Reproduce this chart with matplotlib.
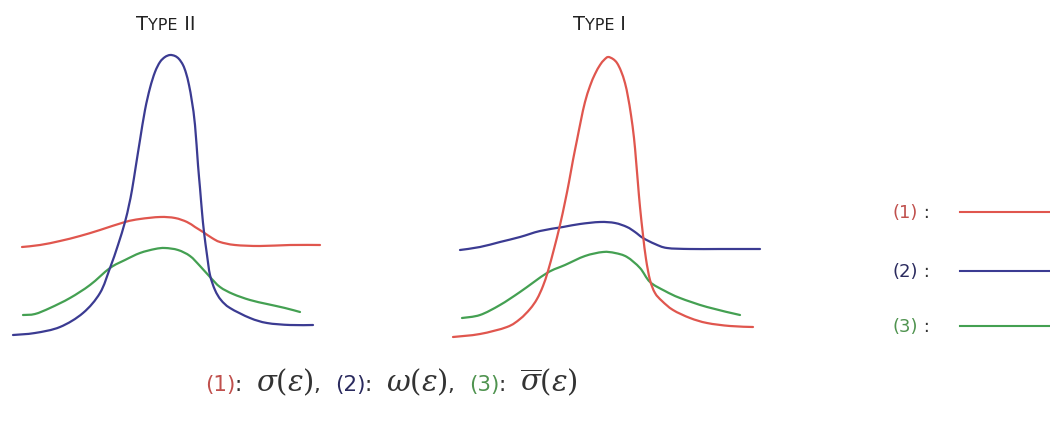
import matplotlib
matplotlib.use("Agg")
import matplotlib.pyplot as plt
from matplotlib.path import Path
from matplotlib.patches import PathPatch

# ---- curve samples (x: strain position within panel, y: curve height) ----
# Type II panel
t2_omega_x = [13, 35, 60, 83, 100, 110, 118, 125, 129, 132, 136, 140, 145, 150, 155, 160, 165, 170, 175,
              179, 183, 186, 189, 192, 195, 198, 200, 202, 204, 207, 210, 215, 221, 230, 250, 267, 290, 313]
t2_omega_y = [10, 12, 18, 32, 52, 77, 100, 123, 140, 155, 180, 205, 235, 257, 273, 283, 288, 290, 289,
              286, 280, 272, 260, 243, 220, 180, 157, 133, 113, 90, 70, 55, 45, 37, 27, 22, 20, 20]
t2_sigma_x = [22, 40, 60, 80, 100, 125, 140, 160, 175, 187, 195, 203, 212, 220, 235, 260, 290, 320]
t2_sigma_y = [98, 100, 104, 109, 115, 123, 126, 128, 127, 123, 118, 113, 107, 103, 100, 99, 100, 100]
t2_sbar_x = [23, 35, 50, 70, 90, 110, 125, 140, 155, 165, 178, 190, 200, 210, 220, 233, 250, 267, 285, 300]
t2_sbar_y = [30, 31, 37, 47, 60, 77, 85, 92, 96, 97, 95, 89, 79, 68, 58, 51, 45, 41, 37, 33]

# Type I panel
t1_sigma_x = [13, 40, 67, 80, 90, 97, 103, 108, 114, 120, 125, 129, 133, 137, 141, 145, 150, 155, 160,
              164, 168, 173, 177, 181, 185, 188, 191, 194, 196, 198, 200, 203, 206, 210, 215, 222, 233,
              250, 267, 290, 313]
t1_sigma_y = [8, 11, 18, 26, 36, 46, 59, 74, 96, 120, 143, 163, 185, 205, 225, 243, 259, 271, 280,
              285, 288, 286, 282, 274, 262, 248, 230, 207, 185, 161, 138, 110, 86, 65, 52, 44, 35,
              27, 22, 19, 18]
t1_omega_x = [20, 40, 60, 80, 100, 123, 140, 160, 175, 187, 195, 203, 215, 227, 250, 280, 320]
t1_omega_y = [95, 98, 103, 108, 114, 118, 121, 123, 122, 118, 113, 107, 101, 97, 96, 96, 96]
t1_sbar_x = [22, 40, 60, 80, 107, 125, 145, 163, 175, 187, 200, 210, 225, 240, 267, 300]
t1_sbar_y = [27, 30, 40, 53, 72, 80, 89, 93, 92, 88, 77, 63, 54, 47, 38, 30]

panel_titles = [("T", "YPE", " II"), ("T", "YPE", " I")]
legend_labels = ["(1)", "(2)", "(3)"]

RED = "#e0564e"
BLUE = "#3b3b92"
GREEN = "#44a052"
RED_TXT = "#c0504d"
BLUE_TXT = "#2a2a5e"
GREEN_TXT = "#4f934f"
INK = "#333333"

W, H = 1050, 421
fig = plt.figure(figsize=(W / 100, H / 100), dpi=100)
fig.patch.set_facecolor("white")


def panel(x0, x1, top, bottom):
    ax = fig.add_axes([x0 / W, (H - bottom) / H, (x1 - x0) / W, (bottom - top) / H])
    ax.set_xlim(0, x1 - x0)
    ax.set_ylim(0, bottom - top)
    ax.axis("off")
    return ax


def smooth_line(ax, xs, ys, color, lw=1.6):
    """Draw a smooth curve through the sample points (Catmull-Rom as cubic Beziers)."""
    pts = list(zip(xs, ys))
    n = len(pts)
    verts = [pts[0]]
    codes = [Path.MOVETO]
    for i in range(n - 1):
        p0 = pts[i - 1] if i > 0 else pts[i]
        p1 = pts[i]
        p2 = pts[i + 1]
        p3 = pts[i + 2] if i + 2 < n else pts[i + 1]
        c1 = (p1[0] + (p2[0] - p0[0]) / 6, p1[1] + (p2[1] - p0[1]) / 6)
        c2 = (p2[0] - (p3[0] - p1[0]) / 6, p2[1] - (p3[1] - p1[1]) / 6)
        verts += [c1, c2, p2]
        codes += [Path.CURVE4] * 3
    ax.add_patch(PathPatch(Path(verts, codes), facecolor="none", edgecolor=color,
                           lw=lw, capstyle="round", joinstyle="round"))


ax2 = panel(0, 340, 40, 345)
smooth_line(ax2, t2_sigma_x, t2_sigma_y, RED)
smooth_line(ax2, t2_sbar_x, t2_sbar_y, GREEN)
smooth_line(ax2, t2_omega_x, t2_omega_y, BLUE)

ax1 = panel(440, 780, 40, 345)
smooth_line(ax1, t1_omega_x, t1_omega_y, BLUE)
smooth_line(ax1, t1_sbar_x, t1_sbar_y, GREEN)
smooth_line(ax1, t1_sigma_x, t1_sigma_y, RED)

# overlay for annotations, in pixel units
ov = fig.add_axes([0, 0, 1, 1])
ov.set_xlim(0, W)
ov.set_ylim(H, 0)
ov.axis("off")

plt.rcParams["mathtext.fontset"] = "dejavuserif"
fig.canvas.draw()
renderer = fig.canvas.get_renderer()


def runs(x, y, pieces, family="DejaVu Sans"):
    """Place text pieces one after another along a common baseline."""
    for text, color, size in pieces:
        t = ov.text(x, y, text, color=color, fontsize=size, family=family,
                    ha="left", va="baseline")
        bb = t.get_window_extent(renderer=renderer)
        x += bb.width * W / fig.bbox.width
    return x


# panel titles in small caps
for (a, b, c), x0 in zip(panel_titles, [136, 573]):
    runs(x0, 30, [(a, "#222222", 14), (b, "#222222", 11.5), (c, "#222222", 14)])

# legend on the right
leg_rows = [(RED_TXT, RED, 212), (BLUE_TXT, BLUE, 271), (GREEN_TXT, GREEN, 326)]
for lab, (tc, lc, yy) in zip(legend_labels, leg_rows):
    runs(893, yy + 6, [(lab, tc, 13), (" :", INK, 13)])
    ov.plot([960, 1050], [yy, yy], color=lc, lw=1.5)

# bottom caption
runs(205, 391, [
    ("(1)", RED_TXT, 15.5), (":  ", INK, 15.5), (r"$\sigma(\varepsilon)$", INK, 21), (",  ", INK, 15.5),
    ("(2)", BLUE_TXT, 15.5), (":  ", INK, 15.5), (r"$\omega(\varepsilon)$", INK, 21), (",  ", INK, 15.5),
    ("(3)", GREEN_TXT, 15.5), (":  ", INK, 15.5), (r"$\overline{\sigma}(\varepsilon)$", INK, 21),
])

fig.savefig("out.png", dpi=100, facecolor="white")
